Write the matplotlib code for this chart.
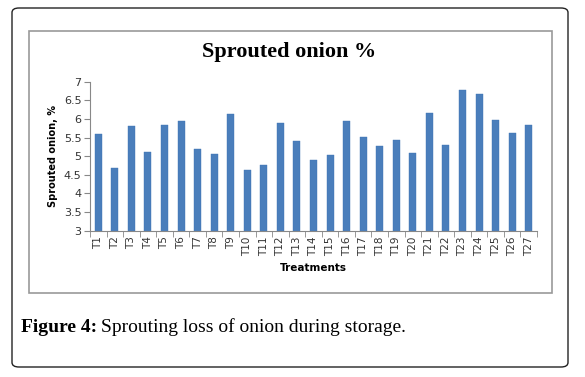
import matplotlib
matplotlib.use("Agg")
import matplotlib.pyplot as plt
from matplotlib.patches import FancyBboxPatch, Rectangle
import numpy as np

categories = [f"T{i}" for i in range(1, 28)]
values = [5.60, 4.68, 5.81, 5.11, 5.84, 5.94, 5.19, 5.06, 6.13, 4.63,
          4.76, 5.89, 5.41, 4.90, 5.03, 5.94, 5.51, 5.27, 5.43, 5.08,
          6.16, 5.30, 6.78, 6.67, 5.97, 5.62, 5.84]
yticks = [3, 3.5, 4, 4.5, 5, 5.5, 6, 6.5, 7]
ytick_labels = ["3", "3.5", "4", "4.5", "5", "5.5", "6", "6.5", "7"]

W, H = 585, 377
fig = plt.figure(figsize=(W / 100, H / 100), dpi=100)
fig.patch.set_facecolor("white")

# outer rounded box
outer = FancyBboxPatch((12 / W, 1 - 367 / H), (568 - 12) / W, (367 - 8) / H,
                       boxstyle="round,pad=0,rounding_size=0.012",
                       transform=fig.transFigure, fill=False,
                       edgecolor="#222222", linewidth=1.0)
fig.patches.append(outer)
# inner chart frame
inner = Rectangle((29 / W, 1 - 293 / H), (552 - 29) / W, (293 - 31) / H,
                  transform=fig.transFigure, fill=False,
                  edgecolor="#999999", linewidth=1.2)
fig.patches.append(inner)

ax = fig.add_axes([90 / W, 1 - 230.7 / H, (537 - 90) / W, (230.7 - 81.7) / H])
x = np.arange(len(categories))
ax.bar(x, values, width=0.42, color="#4a7ebb", edgecolor="#3f74b4",
       linewidth=0.3)
ax.set_ylim(3, 7)
ax.set_xlim(-0.5, len(categories) - 0.5)

ax.set_yticks(yticks)
ax.set_yticklabels(ytick_labels, fontsize=8, color="#333333",
                   family="DejaVu Sans")
ax.set_xticks(x)
ax.set_xticklabels(categories, rotation=90, fontsize=7.5, color="#333333",
                   family="DejaVu Sans")
ax.set_xticks(np.arange(-0.5, len(categories), 1.0), minor=True)
ax.tick_params(axis="x", which="major", length=0, pad=4)
ax.tick_params(axis="x", which="minor", length=4, color="#888888", direction="out")
ax.tick_params(axis="y", length=4, color="#888888", direction="out", pad=2)

for s in ["top", "right"]:
    ax.spines[s].set_visible(False)
ax.spines["left"].set_color("#888888")
ax.spines["bottom"].set_color("#888888")
ax.set_facecolor("white")

ax.set_ylabel("Sprouted onion, %", fontsize=7, fontweight="bold",
              family="DejaVu Sans", labelpad=4)
ax.set_xlabel("Treatments", fontsize=7.5, fontweight="bold",
              family="DejaVu Sans", labelpad=5)

fig.text(289 / W, 1 - 52 / H, "Sprouted onion %", ha="center", va="center",
         fontsize=16, fontweight="bold", family="Liberation Serif")

t1 = fig.text(21 / W, 1 - 327 / H, "Figure 4:", ha="left", va="center",
              fontsize=14, fontweight="bold", family="Liberation Serif")
fig.canvas.draw()
bb = t1.get_window_extent(renderer=fig.canvas.get_renderer())
fig.text((bb.x1 + 4) / W, 1 - 327 / H, "Sprouting loss of onion during storage.",
         ha="left", va="center", fontsize=14, family="Liberation Serif")

fig.savefig("out.png", dpi=100)
